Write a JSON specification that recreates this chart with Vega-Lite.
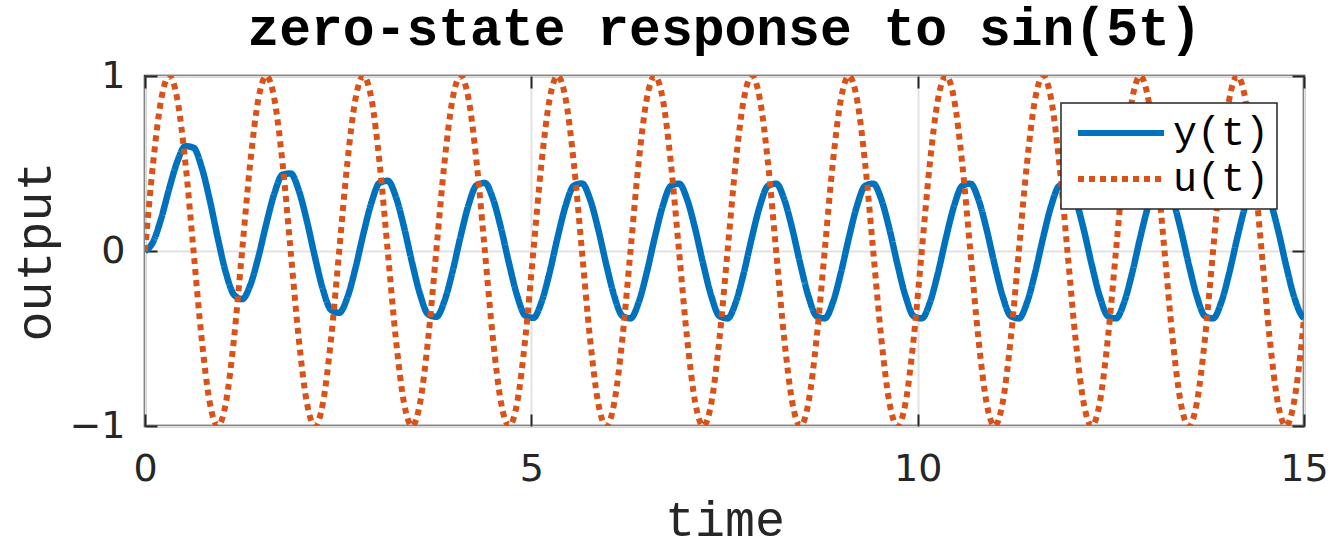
{
"$schema":"https://vega.github.io/schema/vega-lite/v6.json",
"width":1159,"height":350,
"autosize":{"type":"none"},
"padding":{"left":145,"top":76,"right":28,"bottom":116},
"background":"white",
"title":{"text":"zero-state response to sin(5t)","font":"Liberation Mono","fontSize":53,"fontWeight":"bold","color":"#000000","offset":-41,"baseline":"alphabetic","frame":"group","anchor":"middle"},
"data":{"values":[
{"t":0,"y":0,"u":0},
{"t":0.1047,"y":0.052,"u":0.5},
{"t":0.2094,"y":0.186,"u":0.866},
{"t":0.3142,"y":0.358,"u":1},
{"t":0.4189,"y":0.512,"u":0.866},
{"t":0.5236,"y":0.599,"u":0.5},
{"t":0.6283,"y":0.590,"u":0},
{"t":0.7330,"y":0.479,"u":-0.5},
{"t":0.8378,"y":0.292,"u":-0.866},
{"t":0.9425,"y":0.073,"u":-1},
{"t":1.0472,"y":-0.124,"u":-0.866},
{"t":1.1519,"y":-0.250,"u":-0.5},
{"t":1.2566,"y":-0.275,"u":0},
{"t":1.3614,"y":-0.196,"u":0.5},
{"t":1.4661,"y":-0.037,"u":0.866},
{"t":1.5708,"y":0.157,"u":1},
{"t":1.6755,"y":0.331,"u":0.866},
{"t":1.7802,"y":0.436,"u":0.5},
{"t":1.8850,"y":0.443,"u":0},
{"t":1.9897,"y":0.347,"u":-0.5},
{"t":2.0944,"y":0.173,"u":-0.866},
{"t":2.1991,"y":-0.034,"u":-1},
{"t":2.3038,"y":-0.221,"u":-0.866},
{"t":2.4086,"y":-0.337,"u":-0.5},
{"t":2.5133,"y":-0.353,"u":0},
{"t":2.6180,"y":-0.267,"u":0.5},
{"t":2.7227,"y":-0.100,"u":0.866},
{"t":2.8274,"y":0.100,"u":1},
{"t":2.9322,"y":0.279,"u":0.866},
{"t":3.0369,"y":0.390,"u":0.5},
{"t":3.1416,"y":0.401,"u":0},
{"t":3.2463,"y":0.310,"u":-0.5},
{"t":3.3510,"y":0.139,"u":-0.866},
{"t":3.4558,"y":-0.065,"u":-1},
{"t":3.5605,"y":-0.248,"u":-0.866},
{"t":3.6652,"y":-0.362,"u":-0.5},
{"t":3.7699,"y":-0.376,"u":0},
{"t":3.8746,"y":-0.287,"u":0.5},
{"t":3.9794,"y":-0.119,"u":0.866},
{"t":4.0841,"y":0.083,"u":1},
{"t":4.1888,"y":0.265,"u":0.866},
{"t":4.2935,"y":0.377,"u":0.5},
{"t":4.3982,"y":0.389,"u":0},
{"t":4.5029,"y":0.299,"u":-0.5},
{"t":4.6077,"y":0.130,"u":-0.866},
{"t":4.7124,"y":-0.073,"u":-1},
{"t":4.8171,"y":-0.256,"u":-0.866},
{"t":4.9218,"y":-0.369,"u":-0.5},
{"t":5.0265,"y":-0.382,"u":0},
{"t":5.1313,"y":-0.292,"u":0.5},
{"t":5.2360,"y":-0.124,"u":0.866},
{"t":5.3407,"y":0.079,"u":1},
{"t":5.4454,"y":0.261,"u":0.866},
{"t":5.5501,"y":0.373,"u":0.5},
{"t":5.6549,"y":0.386,"u":0},
{"t":5.7596,"y":0.296,"u":-0.5},
{"t":5.8643,"y":0.127,"u":-0.866},
{"t":5.9690,"y":-0.076,"u":-1},
{"t":6.0737,"y":-0.258,"u":-0.866},
{"t":6.1785,"y":-0.371,"u":-0.5},
{"t":6.2832,"y":-0.385,"u":0},
{"t":6.3879,"y":-0.295,"u":0.5},
{"t":6.4926,"y":-0.126,"u":0.866},
{"t":6.5973,"y":0.077,"u":1},
{"t":6.7021,"y":0.259,"u":0.866},
{"t":6.8068,"y":0.372,"u":0.5},
{"t":6.9115,"y":0.385,"u":0},
{"t":7.0162,"y":0.295,"u":-0.5},
{"t":7.1209,"y":0.126,"u":-0.866},
{"t":7.2257,"y":-0.077,"u":-1},
{"t":7.3304,"y":-0.259,"u":-0.866},
{"t":7.4351,"y":-0.372,"u":-0.5},
{"t":7.5398,"y":-0.385,"u":0},
{"t":7.6445,"y":-0.295,"u":0.5},
{"t":7.7493,"y":-0.126,"u":0.866},
{"t":7.8540,"y":0.077,"u":1},
{"t":7.9587,"y":0.259,"u":0.866},
{"t":8.0634,"y":0.372,"u":0.5},
{"t":8.1681,"y":0.385,"u":0},
{"t":8.2729,"y":0.295,"u":-0.5},
{"t":8.3776,"y":0.126,"u":-0.866},
{"t":8.4823,"y":-0.077,"u":-1},
{"t":8.5870,"y":-0.259,"u":-0.866},
{"t":8.6917,"y":-0.372,"u":-0.5},
{"t":8.7965,"y":-0.385,"u":0},
{"t":8.9012,"y":-0.295,"u":0.5},
{"t":9.0059,"y":-0.126,"u":0.866},
{"t":9.1106,"y":0.077,"u":1},
{"t":9.2153,"y":0.259,"u":0.866},
{"t":9.3201,"y":0.372,"u":0.5},
{"t":9.4248,"y":0.385,"u":0},
{"t":9.5295,"y":0.295,"u":-0.5},
{"t":9.6342,"y":0.126,"u":-0.866},
{"t":9.7389,"y":-0.077,"u":-1},
{"t":9.8437,"y":-0.259,"u":-0.866},
{"t":9.9484,"y":-0.372,"u":-0.5},
{"t":10.0531,"y":-0.385,"u":0},
{"t":10.1578,"y":-0.295,"u":0.5},
{"t":10.2625,"y":-0.126,"u":0.866},
{"t":10.3673,"y":0.077,"u":1},
{"t":10.4720,"y":0.259,"u":0.866},
{"t":10.5767,"y":0.372,"u":0.5},
{"t":10.6814,"y":0.385,"u":0},
{"t":10.7861,"y":0.295,"u":-0.5},
{"t":10.8909,"y":0.126,"u":-0.866},
{"t":10.9956,"y":-0.077,"u":-1},
{"t":11.1003,"y":-0.259,"u":-0.866},
{"t":11.2050,"y":-0.372,"u":-0.5},
{"t":11.3097,"y":-0.385,"u":0},
{"t":11.4145,"y":-0.295,"u":0.5},
{"t":11.5192,"y":-0.126,"u":0.866},
{"t":11.6239,"y":0.077,"u":1},
{"t":11.7286,"y":0.259,"u":0.866},
{"t":11.8333,"y":0.372,"u":0.5},
{"t":11.9381,"y":0.385,"u":0},
{"t":12.0428,"y":0.295,"u":-0.5},
{"t":12.1475,"y":0.126,"u":-0.866},
{"t":12.2522,"y":-0.077,"u":-1},
{"t":12.3569,"y":-0.259,"u":-0.866},
{"t":12.4617,"y":-0.372,"u":-0.5},
{"t":12.5664,"y":-0.385,"u":0},
{"t":12.6711,"y":-0.295,"u":0.5},
{"t":12.7758,"y":-0.126,"u":0.866},
{"t":12.8805,"y":0.077,"u":1},
{"t":12.9852,"y":0.259,"u":0.866},
{"t":13.0900,"y":0.372,"u":0.5},
{"t":13.1947,"y":0.385,"u":0},
{"t":13.2994,"y":0.295,"u":-0.5},
{"t":13.4041,"y":0.126,"u":-0.866},
{"t":13.5088,"y":-0.077,"u":-1},
{"t":13.6136,"y":-0.259,"u":-0.866},
{"t":13.7183,"y":-0.372,"u":-0.5},
{"t":13.8230,"y":-0.385,"u":0},
{"t":13.9277,"y":-0.295,"u":0.5},
{"t":14.0324,"y":-0.126,"u":0.866},
{"t":14.1372,"y":0.077,"u":1},
{"t":14.2419,"y":0.259,"u":0.866},
{"t":14.3466,"y":0.372,"u":0.5},
{"t":14.4513,"y":0.385,"u":0},
{"t":14.5560,"y":0.295,"u":-0.5},
{"t":14.6608,"y":0.126,"u":-0.866},
{"t":14.7655,"y":-0.077,"u":-1},
{"t":14.8702,"y":-0.259,"u":-0.866},
{"t":14.9749,"y":-0.372,"u":-0.5},
{"t":15,"y":-0.384,"u":-0.388}
]},
"layer":[
{"mark":{"type":"line","interpolate":"monotone","strokeWidth":6.5,"clip":true},
 "encoding":{
  "x":{"field":"t","type":"quantitative","scale":{"domain":[0,15],"nice":false,"zero":false},
       "axis":{"orient":"bottom","values":[0,5,10,15],"grid":true,"title":"time","labelFlush":false,"labelPadding":36,"titleBaseline":"alphabetic","titleY":109,"titleX":579.5,"titleAlign":"center","titleAnchor":null}},
  "y":{"field":"y","type":"quantitative","scale":{"domain":[-1,1],"nice":false},
       "axis":{"orient":"left","values":[-1,0,1],"format":"~g","grid":true,"title":"output","labelPadding":32,"titleBaseline":"alphabetic","titleX":-95,"titleY":175,"titleAngle":-90,"titleAlign":"center","titleAnchor":null}},
  "color":{"datum":"y(t)","type":"nominal","scale":{"domain":["y(t)","u(t)"],"range":["#0072BD","#D95319"]},"legend":{"title":null}},
  "strokeDash":{"datum":"y(t)","type":"nominal","scale":{"domain":["y(t)","u(t)"],"range":[[1,0],[6,5]]},"legend":{"title":null}}
 }},
{"mark":{"type":"line","interpolate":"monotone","strokeWidth":6,"clip":true},
 "encoding":{
  "x":{"field":"t","type":"quantitative","axis":{"orient":"top","values":[0,5,10,15],"grid":false,"labels":false,"title":null}},
  "y":{"field":"u","type":"quantitative","axis":{"orient":"right","values":[-1,0,1],"grid":false,"labels":false,"title":null}},
  "color":{"datum":"u(t)","type":"nominal"},
  "strokeDash":{"datum":"u(t)","type":"nominal"}
 }}
],
"resolve":{"axis":{"x":"independent","y":"independent"}},
"config":{
 "view":{"stroke":"#262626","strokeWidth":2.5},
 "axis":{"domain":false,"tickSize":-12,"tickColor":"#262626","tickWidth":2,"labelFont":"DejaVu Sans","labelFontSize":38,"labelColor":"#262626","titleFont":"Liberation Mono","titleFontSize":50,"titleFontWeight":"normal","titleColor":"#262626","gridColor":"#e2e2e2","gridWidth":2,"labelOverlap":false,"labelBound":false},
 "legend":{"orient":"top-right","offset":27,"padding":7,"clipHeight":46,"strokeColor":"#262626","strokeWidth":1.5,"fillColor":"white","labelFont":"Liberation Mono","labelFontSize":40,"labelColor":"#000000","symbolSize":7396,"symbolStrokeWidth":6,"symbolType":"stroke","symbolOffset":7,"labelOffset":6,"rowPadding":0,"symbolOpacity":1}
}
}
